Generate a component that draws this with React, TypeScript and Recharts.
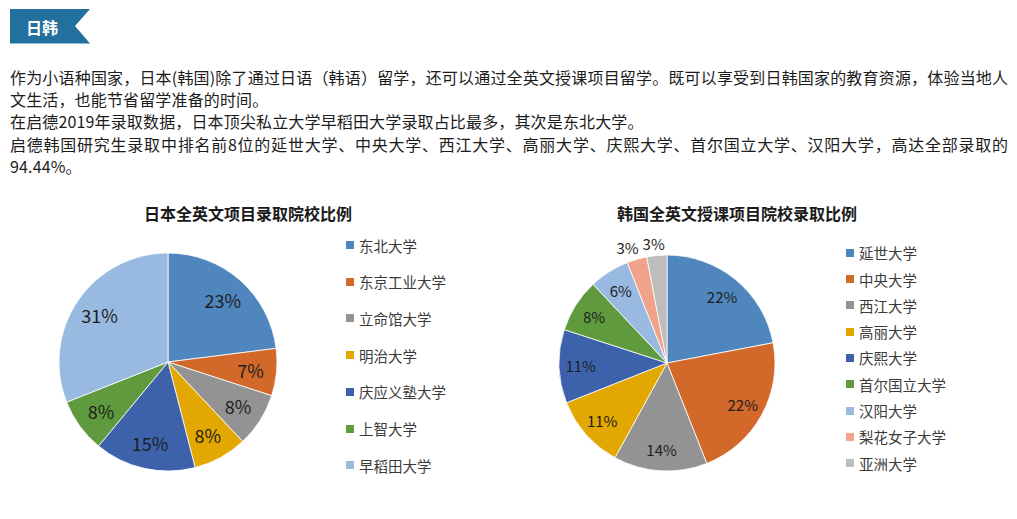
import React from "react";
import { PieChart, Pie, Cell } from "recharts";

const headerText = "日韩";
const bodyLines = [
  "作为小语种国家，日本(韩国)除了通过日语（韩语）留学，还可以通过全英文授课项目留学。既可以享受到日韩国家的教育资源，体验当地人",
  "文生活，也能节省留学准备的时间。",
  "在启德2019年录取数据，日本顶尖私立大学早稻田大学录取占比最多，其次是东北大学。",
  "启德韩国研究生录取中排名前8位的延世大学、中央大学、西江大学、高丽大学、庆熙大学、首尔国立大学、汉阳大学，高达全部录取的",
  "94.44%。",
];
const justifiedLines = [true, false, false, true, false];

const jpTitle = "日本全英文项目录取院校比例";
const jpNames = ["东北大学", "东京工业大学", "立命馆大学", "明治大学", "庆应义塾大学", "上智大学", "早稻田大学"];
const jpValues = [23, 7, 8, 8, 15, 8, 31];
const jpColors = ["#4F86BE", "#D2692A", "#939393", "#E2A700", "#3D62AB", "#5F9A3E", "#98B9E0"];

const krTitle = "韩国全英文授课项目院校录取比例";
const krNames = ["延世大学", "中央大学", "西江大学", "高丽大学", "庆熙大学", "首尔国立大学", "汉阳大学", "梨花女子大学", "亚洲大学"];
const krValues = [22, 22, 14, 11, 11, 8, 6, 3, 3];
const krColors = ["#4F86BE", "#D2692A", "#939393", "#E2A700", "#3D62AB", "#5F9A3E", "#98B9E0", "#F0A28A", "#BDBDBD"];

const FONT = "'Noto Sans CJK SC', 'Noto Sans', sans-serif";
const RAD = Math.PI / 180;

type PieProps = {
  names: string[];
  values: number[];
  colors: string[];
  title: string;
  left: number;
  cx: number;
  cy: number;
  r: number;
  titleX: number;
  labelRatio: number;
  labelSize: number;
  legendX: number;
  legendTop: number;
  legendGap: number;
};

function SchoolPie(p: PieProps) {
  const data = p.names.map((n, i) => ({ name: n, value: p.values[i] }));
  const renderLabel = (props: any) => {
    const { cx, cy, midAngle, outerRadius, value } = props;
    const small = value <= 3;
    const rr = small ? outerRadius + 12 : outerRadius * p.labelRatio;
    const x = cx + rr * Math.cos(-midAngle * RAD) * (small ? 1.18 : 1);
    const y = cy + rr * Math.sin(-midAngle * RAD);
    return (
      <text
        x={x}
        y={y}
        textAnchor="middle"
        dominantBaseline="central"
        fill="#1e1e1e"
        fontSize={p.labelSize}
        fontFamily={FONT}
      >
        {value}%
      </text>
    );
  };
  return (
    <div style={{ position: "absolute", left: p.left, top: 190, width: 460, height: 300 }}>
      <div
        style={{
          position: "absolute",
          left: p.titleX - 150,
          width: 300,
          top: 12,
          textAlign: "center",
          fontSize: 16,
          fontWeight: 700,
          color: "#1a1a1a",
          lineHeight: "22px",
          whiteSpace: "nowrap",
        }}
      >
        {p.title}
      </div>
      <PieChart
        width={460}
        height={300}
        margin={{ top: 0, right: 0, bottom: 0, left: 0 }}
        style={{ position: "absolute", left: 0, top: 0 }}
      >
        <Pie
          data={data}
          dataKey="value"
          nameKey="name"
          cx={p.cx}
          cy={p.cy}
          outerRadius={p.r}
          startAngle={90}
          endAngle={-270}
          stroke="#ffffff"
          strokeWidth={0.8}
          label={renderLabel}
          labelLine={false}
          isAnimationActive={false}
        >
          {data.map((d, i) => (
            <Cell key={d.name} fill={p.colors[i]} />
          ))}
        </Pie>
      </PieChart>
      {p.names.map((n, i) => (
        <div
          key={n}
          style={{
            position: "absolute",
            left: p.legendX,
            top: p.legendTop + i * p.legendGap - 10,
            height: 20,
            display: "flex",
            alignItems: "center",
            whiteSpace: "nowrap",
            fontSize: 14.5,
            color: "#3a3a3a",
          }}
        >
          <span style={{ display: "inline-block", width: 8, height: 8, background: p.colors[i], marginRight: 5 }} />
          <span>{n}</span>
        </div>
      ))}
    </div>
  );
}

export default function App() {
  return (
    <div
      style={{
        position: "absolute",
        left: 0,
        top: 0,
        width: 1017,
        height: 519,
        background: "#ffffff",
        fontFamily: FONT,
        overflow: "hidden",
      }}
    >
      <svg width={100} height={50} style={{ position: "absolute", left: 0, top: 0 }}>
        <polygon points="10,9 90,9 75,26 90,43.5 10,43.5" fill="#21709D" />
        <text x={42} y={27} textAnchor="middle" dominantBaseline="central" fill="#ffffff" fontSize={16} fontWeight={700} fontFamily={FONT}>
          {headerText}
        </text>
      </svg>
      <div style={{ position: "absolute", left: 10, top: 66, width: 998, color: "#1c1c1c", fontSize: 16, lineHeight: "22.2px" }}>
        {bodyLines.map((l, i) => (
          <div
            key={i}
            style={{
              whiteSpace: "nowrap",
              width: 998,
              textAlign: justifiedLines[i] ? "justify" : "left",
              textAlignLast: justifiedLines[i] ? "justify" : "left",
              letterSpacing: justifiedLines[i] ? 0 : 0.15,
            } as React.CSSProperties}
          >
            {l}
          </div>
        ))}
      </div>
      <SchoolPie
        names={jpNames}
        values={jpValues}
        colors={jpColors}
        title={jpTitle}
        left={40}
        cx={128}
        cy={172}
        r={109}
        titleX={208}
        labelRatio={0.76}
        labelSize={18}
        legendX={306}
        legendTop={55}
        legendGap={36.7}
      />
      <SchoolPie
        names={krNames}
        values={krValues}
        colors={krColors}
        title={krTitle}
        left={540}
        cx={127}
        cy={173}
        r={108}
        titleX={197}
        labelRatio={0.8}
        labelSize={15}
        legendX={306}
        legendTop={62.7}
        legendGap={26.3}
      />
    </div>
  );
}
